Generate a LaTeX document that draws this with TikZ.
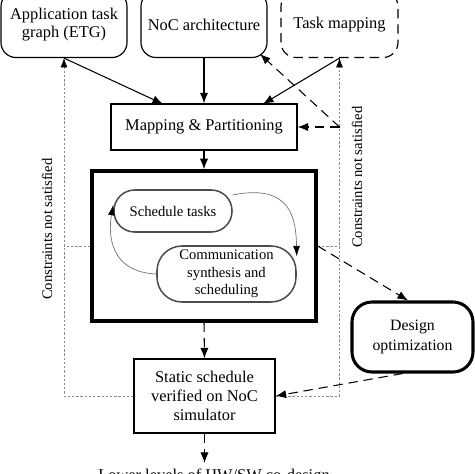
\documentclass[tikz,border=0pt]{standalone}
\usepackage{fontspec}
\setmainfont{Liberation Serif}
\usetikzlibrary{arrows.meta,calc}
\begin{document}
\begin{tikzpicture}[x=0.03cm,y=-0.03cm,
  font=\fontsize{14}{17}\selectfont,
  box/.style={draw,line width=1pt,align=center,inner sep=0pt},
  rbox/.style={box,rounded corners=0.45cm},
  ibox/.style={draw=black!70,line width=1.3pt,align=center,inner sep=0pt,
    font=\fontsize{12.5}{15}\selectfont},
  arr/.style={-{Latex[length=9pt,width=7pt]},line width=0.9pt},
  darr/.style={arr,dash pattern=on 8pt off 5pt},
  dotl/.style={draw=black!45,line width=0.6pt,dash pattern=on 2pt off 1.6pt},
  dotarr/.style={dotl,-{Latex[length=8pt,width=6pt,color=black]}},
  curv/.style={draw=black!55,line width=0.6pt,-{Latex[length=9pt,width=6pt,color=black]}},
  lab/.style={font=\fontsize{12.5}{15}\selectfont,inner sep=0pt}
]
\useasboundingbox (0,0) rectangle (474,474);
% top inputs
\node[rbox,minimum width=3.78cm,minimum height=1.98cm] (etg) at (64,24.5) {Application task\\[-1pt]graph (ETG)};
\node[rbox,minimum width=3.78cm,minimum height=1.98cm] (noc) at (204,24.5) {NoC architecture};
\node[rbox,dash pattern=on 8pt off 5pt,minimum width=3.51cm,minimum height=1.98cm] (tm) at (339.5,24.5) {Task mapping};
% mapping
\node[box,minimum width=5.58cm,minimum height=1.38cm] (mp) at (204,127) {Mapping \& Partitioning};
% big box
\node[draw,line width=3pt,minimum width=6.72cm,minimum height=4.5cm,inner sep=0pt] (bb) at (204,246) {};
\node[ibox,rounded corners=0.62cm,minimum width=3.54cm,minimum height=1.26cm] (st) at (173,211) {Schedule tasks};
\node[ibox,rounded corners=0.75cm,minimum width=4.17cm,minimum height=1.68cm] (cs) at (226.5,274) {Communication\\synthesis and\\scheduling};
% static schedule
\node[box,minimum width=4.23cm,minimum height=2.22cm] (ss) at (204.5,396) {Static schedule\\[-1pt]verified on NoC\\[-1pt]simulator};
% design optimization
\node[draw,line width=2.6pt,rounded corners=0.6cm,align=center,inner sep=0pt,minimum width=3.63cm,minimum height=2.1cm,font=\fontsize{13.5}{17}\selectfont] (dopt) at (412.5,337) {Design\\optimization};
% bottom text (clipped)
\node[anchor=north,inner sep=0pt] (low) at (214,469) {Lower levels of HW/SW co-design};
% constraint labels
\node[lab,rotate=90] (c1) at (47,229) {Constraints not satisfied};
\node[lab,rotate=90] (c2) at (357,177) {Constraints not satisfied};
% coordinates
\coordinate (rj) at (tm.south |- mp.east);
\coordinate (nocc) at (260,54);
\coordinate (lowt) at (204.5,463);
% solid arrows
\draw[arr] (etg.south) -- (163,104);
\draw[arr] (noc.south) -- (mp.north);
\draw[arr] (tm.south) -- (263,104);
\draw[arr] (mp.south) -- (bb.north);
% dotted feedback
\draw[dotarr] (ss.west) -| (etg.south);
\draw[dotarr] (ss.east) -| (tm.south);
\draw[dotl] (bb.west) -- (bb.west -| etg.south);
\draw[dotl] (bb.east) -- (bb.east -| tm.south);
% dashed arrows
\draw[darr] (rj) -- (mp.east);
\draw[darr] (rj) -- (nocc);
\draw[darr] (bb.south) -- (ss.north);
\draw[darr] (bb.east) -- (dopt.97);
\draw[darr] (dopt.-105) -- (ss.east);
\draw[darr] (ss.south) -- (lowt);
% inner loop
\draw[curv] (st.15) .. controls (292,183) and (296,220) .. (cs.14);
\draw[curv] (cs.west) .. controls (110,272) and (108,235) .. (st.174);
\end{tikzpicture}
\end{document}
